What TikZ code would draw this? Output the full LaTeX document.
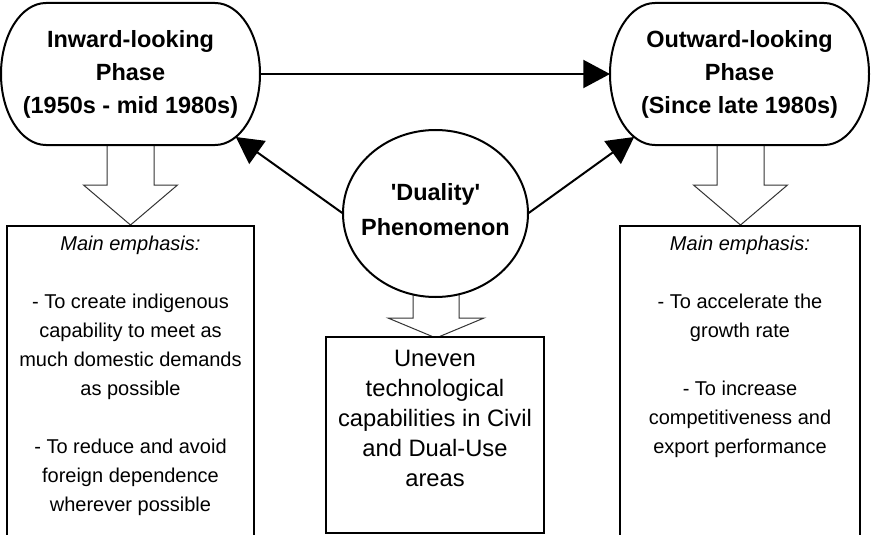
\documentclass[tikz,border=0pt]{standalone}
\usepackage{fontspec}
\setmainfont{Liberation Sans}
\usetikzlibrary{arrows.meta,shapes.geometric}
\tikzset{
  outline/.style={line width=1.5pt, fill=white},
  phasenode/.style={rectangle, draw=none, inner sep=0pt, outer sep=0pt,
    minimum width=194.25pt, minimum height=106.5pt, align=center,
    font=\bfseries\fontsize{17.6pt}{24.75pt}\selectfont},
  dualnode/.style={ellipse, draw, line width=1.5pt, fill=white, inner sep=0pt, outer sep=0pt,
    minimum width=138.75pt, minimum height=125.25pt},
  boldtext/.style={inner sep=0pt, align=center, font=\bfseries\fontsize{17.6pt}{26.25pt}\selectfont},
  textbox/.style={rectangle, draw, line width=1.8pt, fill=white, inner sep=0pt, outer sep=0pt},
  bodytext/.style={inner sep=0pt, align=center, anchor=north, font=\fontsize{15pt}{21.75pt}\selectfont},
  bigtext/.style={inner sep=0pt, align=center, anchor=north, font=\fontsize{17.8pt}{22.5pt}\selectfont},
  link/.style={line width=1.5pt, -{Triangle[length=20pt,width=21pt]}},
  blockarrow/.style={line width=0.75pt, draw=black!80, fill=white, line join=miter}
}
\begin{document}
\begin{tikzpicture}[x=0.75pt,y=-0.75pt]
\clip (0,0) rectangle (871,535);
\fill[white] (0,0) rectangle (871,535);

% hollow block arrows
\draw[blockarrow] (107,145) -- (107,185) -- (83.5,185) -- (130.5,225) -- (177.5,185) -- (154,185) -- (154,145);
\draw[blockarrow] (717,145) -- (717,185) -- (693.5,185) -- (740.5,225) -- (787.5,185) -- (764,185) -- (764,145);
\draw[blockarrow] (413,290) -- (413,318) -- (388,318) -- (436,338) -- (484,318) -- (459,318) -- (459,290);

% phase boxes (outline with elliptic ends)
\draw[outline] (46,3) -- (215,3) .. controls (239.85,3) and (260,34.8) .. (260,74)
  .. controls (260,113.2) and (239.85,145) .. (215,145) -- (46,145)
  .. controls (21.15,145) and (1,113.2) .. (1,74) .. controls (1,34.8) and (21.15,3) .. (46,3) -- cycle;
\draw[outline] (655,3) -- (824,3) .. controls (848.85,3) and (869,34.8) .. (869,74)
  .. controls (869,113.2) and (848.85,145) .. (824,145) -- (655,145)
  .. controls (630.15,145) and (610,113.2) .. (610,74) .. controls (610,34.8) and (630.15,3) .. (655,3) -- cycle;

\node[phasenode] (L) at (130.5,74) {Inward-looking\\Phase\\(1950s - mid 1980s)};
\node[phasenode] (R) at (739.5,74) {Outward-looking\\Phase\\(Since late 1980s)};

% duality ellipse
\node[dualnode] (D) at (435.5,213.5) {};
\node[boldtext] (DT) at (435.5,210) {\textquotesingle Duality\textquotesingle\\Phenomenon};

% arrow end points on the rounded ends
\coordinate (Ltip) at (235.8,137);
\coordinate (Rtip) at (634.2,137);

\draw[link] (L.east) -- (R.west);
\draw[link] (D.west) -- (Ltip);
\draw[link] (D.east) -- (Rtip);

% lower boxes
\node[textbox, minimum width=185.25pt, minimum height=232.5pt] (LB) at (130.5,381) {};
\node[textbox, minimum width=180pt, minimum height=232.5pt] (RB) at (740,381) {};
\node[textbox, minimum width=163.5pt, minimum height=147pt] (CB) at (435,435) {};

\node[bodytext] (LT) at (130.5,236) {\textit{Main emphasis:}\\[21.75pt]- To create indigenous\\capability to meet as\\much domestic demands\\as possible\\[21.75pt]- To reduce and avoid\\foreign dependence\\wherever possible};
\node[bodytext] (RT) at (740,236) {\textit{Main emphasis:}\\[21.75pt]- To accelerate the\\growth rate\\[21.75pt]- To increase\\competitiveness and\\export performance};
\node[bigtext] (CT) at (435,350) {Uneven\\technological\\capabilities in Civil\\and Dual-Use\\areas};
\end{tikzpicture}
\end{document}
